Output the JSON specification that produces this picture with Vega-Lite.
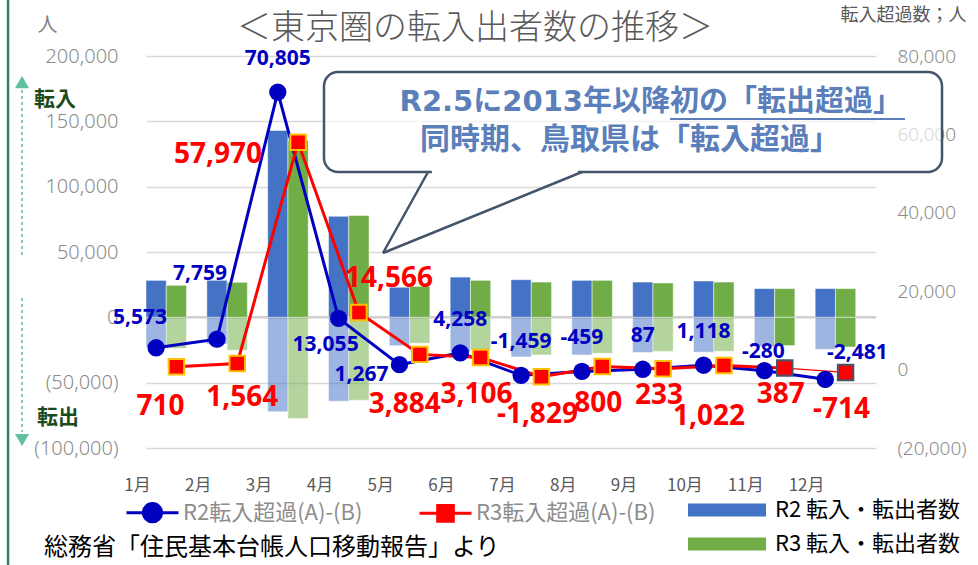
{
  "$schema": "https://vega.github.io/schema/vega-lite/v6.json",
  "width": 730,
  "height": 392,
  "autosize": {"type": "none"},
  "padding": {"left": 146, "top": 56, "right": 102, "bottom": 117},
  "background": "white",
  "config": {
    "view": {"stroke": null},
    "font": "Noto Sans CJK JP",
    "locale": {"number": {"decimal": ".", "thousands": ",", "grouping": [3], "currency": ["", ""], "minus": "-"}}
  },
  "datasets": {
    "bars": [
      {"month": "1月", "year": "R2", "flow": "転入", "value": 28300},
      {"month": "1月", "year": "R2", "flow": "転出", "value": -22700},
      {"month": "1月", "year": "R3", "flow": "転入", "value": 24500},
      {"month": "1月", "year": "R3", "flow": "転出", "value": -23800},
      {"month": "2月", "year": "R2", "flow": "転入", "value": 28300},
      {"month": "2月", "year": "R2", "flow": "転出", "value": -20500},
      {"month": "2月", "year": "R3", "flow": "転入", "value": 26800},
      {"month": "2月", "year": "R3", "flow": "転出", "value": -25200},
      {"month": "3月", "year": "R2", "flow": "転入", "value": 143000},
      {"month": "3月", "year": "R2", "flow": "転出", "value": -72200},
      {"month": "3月", "year": "R3", "flow": "転入", "value": 135400},
      {"month": "3月", "year": "R3", "flow": "転出", "value": -77400},
      {"month": "4月", "year": "R2", "flow": "転入", "value": 77300},
      {"month": "4月", "year": "R2", "flow": "転出", "value": -64200},
      {"month": "4月", "year": "R3", "flow": "転入", "value": 78000},
      {"month": "4月", "year": "R3", "flow": "転出", "value": -63400},
      {"month": "5月", "year": "R2", "flow": "転入", "value": 23000},
      {"month": "5月", "year": "R2", "flow": "転出", "value": -21700},
      {"month": "5月", "year": "R3", "flow": "転入", "value": 23700},
      {"month": "5月", "year": "R3", "flow": "転出", "value": -19800},
      {"month": "6月", "year": "R2", "flow": "転入", "value": 30800},
      {"month": "6月", "year": "R2", "flow": "転出", "value": -26500},
      {"month": "6月", "year": "R3", "flow": "転入", "value": 28300},
      {"month": "6月", "year": "R3", "flow": "転出", "value": -25200},
      {"month": "7月", "year": "R2", "flow": "転入", "value": 28800},
      {"month": "7月", "year": "R2", "flow": "転出", "value": -30300},
      {"month": "7月", "year": "R3", "flow": "転入", "value": 27000},
      {"month": "7月", "year": "R3", "flow": "転出", "value": -28800},
      {"month": "8月", "year": "R2", "flow": "転入", "value": 28300},
      {"month": "8月", "year": "R2", "flow": "転出", "value": -28800},
      {"month": "8月", "year": "R3", "flow": "転入", "value": 28300},
      {"month": "8月", "year": "R3", "flow": "転出", "value": -27500},
      {"month": "9月", "year": "R2", "flow": "転入", "value": 27000},
      {"month": "9月", "year": "R2", "flow": "転出", "value": -26900},
      {"month": "9月", "year": "R3", "flow": "転入", "value": 26300},
      {"month": "9月", "year": "R3", "flow": "転出", "value": -26100},
      {"month": "10月", "year": "R2", "flow": "転入", "value": 27800},
      {"month": "10月", "year": "R2", "flow": "転出", "value": -26700},
      {"month": "10月", "year": "R3", "flow": "転入", "value": 27000},
      {"month": "10月", "year": "R3", "flow": "転出", "value": -26000},
      {"month": "11月", "year": "R2", "flow": "転入", "value": 22000},
      {"month": "11月", "year": "R2", "flow": "転出", "value": -22300},
      {"month": "11月", "year": "R3", "flow": "転入", "value": 22000},
      {"month": "11月", "year": "R3", "flow": "転出", "value": -21600},
      {"month": "12月", "year": "R2", "flow": "転入", "value": 22000},
      {"month": "12月", "year": "R2", "flow": "転出", "value": -24500},
      {"month": "12月", "year": "R3", "flow": "転入", "value": 22000},
      {"month": "12月", "year": "R3", "flow": "転出", "value": -22700}
    ],
    "net": [
      {"month": "1月", "year": "R2", "net": 5573},
      {"month": "2月", "year": "R2", "net": 7759},
      {"month": "3月", "year": "R2", "net": 70805},
      {"month": "4月", "year": "R2", "net": 13055},
      {"month": "5月", "year": "R2", "net": 1267},
      {"month": "6月", "year": "R2", "net": 4258},
      {"month": "7月", "year": "R2", "net": -1459},
      {"month": "8月", "year": "R2", "net": -459},
      {"month": "9月", "year": "R2", "net": 87},
      {"month": "10月", "year": "R2", "net": 1118},
      {"month": "11月", "year": "R2", "net": -280},
      {"month": "12月", "year": "R2", "net": -2481},
      {"month": "1月", "year": "R3", "net": 710},
      {"month": "2月", "year": "R3", "net": 1564},
      {"month": "3月", "year": "R3", "net": 57970},
      {"month": "4月", "year": "R3", "net": 14566},
      {"month": "5月", "year": "R3", "net": 3884},
      {"month": "6月", "year": "R3", "net": 3106},
      {"month": "7月", "year": "R3", "net": -1829},
      {"month": "8月", "year": "R3", "net": 800},
      {"month": "9月", "year": "R3", "net": 233},
      {"month": "10月", "year": "R3", "net": 1022},
      {"month": "11月", "year": "R3", "net": 387},
      {"month": "12月", "year": "R3", "net": -714}
    ]
  },
  "layer": [
    {
      "data": {"name": "bars"},
      "layer": [
        {
          "data": {"values": [{}]},
          "mark": {"type": "rule", "color": "#D0D0D0", "strokeWidth": 2.5},
          "encoding": {"y": {"datum": 0, "type": "quantitative"}}
        },
        {
          "mark": {"type": "bar", "stroke": "white", "strokeWidth": 0.5},
          "encoding": {
            "x": {
              "field": "month", "type": "nominal",
              "sort": ["1月","2月","3月","4月","5月","6月","7月","8月","9月","10月","11月","12月"],
              "scale": {"paddingInner": 0, "paddingOuter": 0},
              "axis": {"title": null, "labelOffset": -39, "labelPadding": 29, "labelAngle": 0, "labelFontSize": 17, "labelColor": "#595959", "ticks": false, "domain": false, "grid": false, "labelFont": "Noto Sans CJK JP"}
            },
            "xOffset": {"field": "year", "type": "nominal", "scale": {"domain": ["R2", "R3"], "paddingInner": 0, "paddingOuter": 0.5, "align": 0}},
            "y": {
              "field": "value", "type": "quantitative",
              "scale": {"domain": [-100000, 200000], "nice": false, "zero": false},
              "axis": {
                "title": "人", "titleAngle": 0, "titleX": -99, "titleY": -31, "titleAlign": "center", "titleBaseline": "middle",
                "titleFontSize": 20, "titleFontWeight": "normal", "titleColor": "#7f7f7f", "titleFont": "Noto Sans CJK JP",
                "values": [-100000, -50000, 0, 50000, 100000, 150000, 200000],
                "labelExpr": "datum.value < 0 ? '(' + format(-datum.value, ',') + ')' : format(datum.value, ',')",
                "labelFontSize": 20, "labelColor": "#8c8c8c", "labelPadding": 28, "labelFont": "Noto Sans", "labelFontWeight": 300,
                "ticks": false, "domain": false, "grid": true, "gridColor": "#D9D9D9", "gridWidth": 1.5
              }
            },
            "color": {
              "field": "year", "type": "nominal",
              "scale": {"domain": ["R2", "R3"], "range": ["#4472C4", "#70AD47"]},
              "legend": {
                "title": null, "orient": "none", "legendX": 568, "legendY": 441, "direction": "vertical", "padding": 0,
                "symbolType": "M-3,-0.5H3V0.5H-3Z", "symbolSize": 676, "symbolStrokeWidth": 0, "symbolOpacity": 1,
                "labelExpr": "datum.label + '  転入・転出者数'", "labelFontSize": 22, "labelOffset": 35, "rowPadding": 10, "labelLimit": 400,
                "labelFont": "Noto Sans CJK JP",
                "encode": {"labels": {"update": {"fill": {"signal": "datum.value == 'R2' ? '#4472C4' : '#70AD47'"}}}}
              }
            },
            "opacity": {
              "condition": {"test": "datum.value < 0 && !(datum.year == 'R3' && (datum.month == '11月' || datum.month == '12月'))", "value": 0.52},
              "value": 1
            }
          }
        }
      ]
    },
    {
      "data": {"name": "net"},
      "encoding": {
        "x": {
          "field": "month", "type": "nominal",
          "sort": ["1月","2月","3月","4月","5月","6月","7月","8月","9月","10月","11月","12月"],
          "scale": {"paddingInner": 0, "paddingOuter": 0},
          "axis": null
        },
        "y": {
          "field": "net", "type": "quantitative",
          "scale": {"domain": [-20000, 80000], "nice": false, "zero": false},
          "axis": {
            "orient": "right", "title": "転入超過数；人", "titleAngle": 0, "titleX": 27, "titleY": -41, "titleAlign": "center", "titleBaseline": "middle",
            "titleFontSize": 18, "titleFontWeight": "normal", "titleColor": "#595959", "titleFont": "Noto Sans CJK JP",
            "values": [-20000, 0, 20000, 40000, 60000, 80000],
            "labelExpr": "datum.value < 0 ? '(' + format(-datum.value, ',') + ')' : format(datum.value, ',')",
            "labelFontSize": 19, "labelColor": "#8c8c8c", "labelPadding": 21, "labelFont": "Noto Sans", "labelFontWeight": 300,
            "ticks": false, "domain": false, "grid": false
          }
        }
      },
      "layer": [
        {
          "transform": [{"filter": "datum.year == 'R2'"}],
          "mark": {"type": "line", "strokeWidth": 3, "xOffset": -20.3},
          "encoding": {
            "stroke": {
              "field": "year", "type": "nominal",
              "scale": {"domain": ["R2", "R3"], "range": ["#0000C0", "#FF0000"]},
              "legend": {
                "title": null, "orient": "none", "legendX": -8, "legendY": 442, "direction": "horizontal", "columns": 2, "padding": 0,
                "symbolSize": 676, "symbolStrokeWidth": 3, "columnPadding": 50, "labelOffset": 16, "labelLimit": 400,
                "labelExpr": "datum.label + '転入超過(A)-(B)'", "labelFontSize": 22, "labelColor": "#8c8c8c", "labelFont": "Noto Sans CJK JP",
                "encode": {"symbols": {"update": {
                  "shape": {"signal": "datum.value == 'R2' ? 'M-2,0H2M-0.7,0A0.7,0.7,0,1,0,0.7,0A0.7,0.7,0,1,0,-0.7,0Z' : 'M-2,0H2M-0.6,-0.6H0.6V0.6H-0.6Z'"},
                  "fill": {"signal": "datum.value == 'R2' ? '#0000C0' : '#FF0000'"},
                  "fillOpacity": {"value": 1}
                }}}
              }
            }
          }
        },
        {
          "transform": [{"filter": "datum.year == 'R3' && datum.month != '12月'"}],
          "mark": {"type": "line", "strokeWidth": 3},
          "encoding": {
            "stroke": {"field": "year", "type": "nominal", "scale": {"domain": ["R2", "R3"], "range": ["#0000C0", "#FF0000"]}}
          }
        },
        {
          "transform": [{"filter": "datum.year == 'R3' && (datum.month == '11月' || datum.month == '12月')"}],
          "mark": {"type": "line", "strokeWidth": 1.3},
          "encoding": {
            "stroke": {"field": "year", "type": "nominal", "scale": {"domain": ["R2", "R3"], "range": ["#0000C0", "#FF0000"]}}
          }
        },
        {
          "transform": [{"filter": "datum.year == 'R2'"}],
          "mark": {"type": "point", "shape": "circle", "filled": true, "size": 300, "color": "#0000C0", "opacity": 1, "xOffset": -20.3}
        },
        {
          "transform": [{"filter": "datum.year == 'R3' && datum.month != '11月' && datum.month != '12月'"}],
          "mark": {"type": "point", "shape": "square", "filled": true, "size": 240, "fill": "#FF0000", "stroke": "#FFC000", "strokeWidth": 2, "opacity": 1}
        },
        {
          "transform": [{"filter": "datum.year == 'R3' && (datum.month == '11月' || datum.month == '12月')"}],
          "mark": {"type": "point", "shape": "square", "filled": true, "size": 240, "fill": "#FF0000", "stroke": "#44546A", "strokeWidth": 2, "opacity": 1}
        },
        {
          "transform": [{"filter": "datum.year == 'R2'"}, {"filter": {"field": "month", "oneOf": ["3月", "6月", "7月", "8月", "9月", "10月"]}}],
          "mark": {"type": "text", "xOffset": -20.3, "dy": -33, "fontSize": 21, "fontWeight": "bold", "font": "Noto Sans", "color": "#0000C0"},
          "encoding": {"text": {"field": "net", "type": "quantitative", "format": ","}}
        },
        {
          "transform": [{"filter": "datum.year == 'R2'"}, {"filter": {"field": "month", "oneOf": ["1月"]}}],
          "mark": {"type": "text", "xOffset": -20.3, "dx": -16, "dy": -30, "fontSize": 21, "fontWeight": "bold", "font": "Noto Sans", "color": "#0000C0"},
          "encoding": {"text": {"field": "net", "type": "quantitative", "format": ","}}
        },
        {
          "transform": [{"filter": "datum.year == 'R2'"}, {"filter": {"field": "month", "oneOf": ["2月"]}}],
          "mark": {"type": "text", "xOffset": -20.3, "dx": -17, "dy": -65, "fontSize": 21, "fontWeight": "bold", "font": "Noto Sans", "color": "#0000C0"},
          "encoding": {"text": {"field": "net", "type": "quantitative", "format": ","}}
        },
        {
          "transform": [{"filter": "datum.year == 'R2'"}, {"filter": {"field": "month", "oneOf": ["4月"]}}],
          "mark": {"type": "text", "xOffset": -20.3, "dx": -13, "dy": 27, "fontSize": 21, "fontWeight": "bold", "font": "Noto Sans", "color": "#0000C0"},
          "encoding": {"text": {"field": "net", "type": "quantitative", "format": ","}}
        },
        {
          "transform": [{"filter": "datum.year == 'R2'"}, {"filter": {"field": "month", "oneOf": ["5月"]}}],
          "mark": {"type": "text", "xOffset": -20.3, "dx": -38, "dy": 10, "fontSize": 21, "fontWeight": "bold", "font": "Noto Sans", "color": "#0000C0"},
          "encoding": {"text": {"field": "net", "type": "quantitative", "format": ","}}
        },
        {
          "transform": [{"filter": "datum.year == 'R2'"}, {"filter": {"field": "month", "oneOf": ["11月"]}}],
          "mark": {"type": "text", "xOffset": -20.3, "dx": -1, "dy": -19, "fontSize": 21, "fontWeight": "bold", "font": "Noto Sans", "color": "#0000C0"},
          "encoding": {"text": {"field": "net", "type": "quantitative", "format": ","}}
        },
        {
          "transform": [{"filter": "datum.year == 'R2'"}, {"filter": {"field": "month", "oneOf": ["12月"]}}],
          "mark": {"type": "text", "xOffset": -20.3, "dx": 32, "dy": -26, "fontSize": 21, "fontWeight": "bold", "font": "Noto Sans", "color": "#0000C0"},
          "encoding": {"text": {"field": "net", "type": "quantitative", "format": ","}}
        },
        {
          "transform": [{"filter": "datum.year == 'R3'"}, {"filter": {"field": "month", "oneOf": ["6月", "7月", "8月", "12月"]}}],
          "mark": {"type": "text", "dx": -4, "dy": 38, "fontSize": 28, "fontWeight": "bold", "font": "Noto Sans", "color": "#FF0000"},
          "encoding": {"text": {"field": "net", "type": "quantitative", "format": ","}}
        },
        {
          "transform": [{"filter": "datum.year == 'R3'"}, {"filter": {"field": "month", "oneOf": ["1月"]}}],
          "mark": {"type": "text", "dx": -16, "dy": 40, "fontSize": 28, "fontWeight": "bold", "font": "Noto Sans", "color": "#FF0000"},
          "encoding": {"text": {"field": "net", "type": "quantitative", "format": ","}}
        },
        {
          "transform": [{"filter": "datum.year == 'R3'"}, {"filter": {"field": "month", "oneOf": ["2月"]}}],
          "mark": {"type": "text", "dx": 5, "dy": 35, "fontSize": 28, "fontWeight": "bold", "font": "Noto Sans", "color": "#FF0000"},
          "encoding": {"text": {"field": "net", "type": "quantitative", "format": ","}}
        },
        {
          "transform": [{"filter": "datum.year == 'R3'"}, {"filter": {"field": "month", "oneOf": ["5月", "10月"]}}],
          "mark": {"type": "text", "dx": -15, "dy": 51, "fontSize": 28, "fontWeight": "bold", "font": "Noto Sans", "color": "#FF0000"},
          "encoding": {"text": {"field": "net", "type": "quantitative", "format": ","}}
        },
        {
          "transform": [{"filter": "datum.year == 'R3'"}, {"filter": {"field": "month", "oneOf": ["9月", "11月"]}}],
          "mark": {"type": "text", "dx": -4, "dy": 27, "fontSize": 28, "fontWeight": "bold", "font": "Noto Sans", "color": "#FF0000"},
          "encoding": {"text": {"field": "net", "type": "quantitative", "format": ","}}
        },
        {
          "transform": [{"filter": "datum.year == 'R3'"}, {"filter": {"field": "month", "oneOf": ["3月"]}}],
          "mark": {"type": "text", "dx": -80, "dy": 13, "fontSize": 28, "fontWeight": "bold", "font": "Noto Sans", "color": "#FF0000"},
          "encoding": {"text": {"field": "net", "type": "quantitative", "format": ","}}
        },
        {
          "transform": [{"filter": "datum.year == 'R3'"}, {"filter": {"field": "month", "oneOf": ["4月"]}}],
          "mark": {"type": "text", "dx": 30, "dy": -34, "fontSize": 28, "fontWeight": "bold", "font": "Noto Sans", "color": "#FF0000"},
          "encoding": {"text": {"field": "net", "type": "quantitative", "format": ","}}
        }
      ]
    },
    {
      "data": {"values": [{}]},
      "layer": [
        {
          "mark": {"type": "rule", "color": "#2E8060", "strokeWidth": 2.5, "clip": false},
          "encoding": {
            "x": {"datum": -2.268, "type": "quantitative", "scale": {"domain": [0, 12], "nice": false, "zero": false}, "axis": null},
            "y": {"datum": 94286, "type": "quantitative", "scale": {"domain": [-20000, 80000], "nice": false, "zero": false}, "axis": null},
            "y2": {"datum": -49847}
          }
        },
        {
          "mark": {"type": "rule", "color": "#5FBF9F", "strokeWidth": 1.5, "strokeDash": [3, 3]},
          "encoding": {"x": {"datum": -2.038, "type": "quantitative"}, "y": {"datum": 71327, "type": "quantitative"}, "y2": {"datum": 28469}}
        },
        {
          "mark": {"type": "rule", "color": "#5FBF9F", "strokeWidth": 1.5, "strokeDash": [3, 3]},
          "encoding": {"x": {"datum": -2.038, "type": "quantitative"}, "y": {"datum": 18265, "type": "quantitative"}, "y2": {"datum": -15918}}
        },
        {
          "mark": {"type": "point", "shape": "triangle-up", "filled": true, "size": 200, "color": "#5FBF9F", "opacity": 1},
          "encoding": {"x": {"datum": -2.038, "type": "quantitative"}, "y": {"datum": 73367, "type": "quantitative"}}
        },
        {
          "mark": {"type": "point", "shape": "triangle-down", "filled": true, "size": 200, "color": "#5FBF9F", "opacity": 1},
          "encoding": {"x": {"datum": -2.038, "type": "quantitative"}, "y": {"datum": -17959, "type": "quantitative"}}
        },
        {
          "mark": {"type": "text", "text": "転入", "fontSize": 21, "fontWeight": "bold", "color": "#1B4A1B", "font": "Noto Sans CJK JP"},
          "encoding": {"x": {"datum": -1.496, "type": "quantitative"}, "y": {"datum": 68776, "type": "quantitative"}}
        },
        {
          "mark": {"type": "text", "text": "転出", "fontSize": 21, "fontWeight": "bold", "color": "#1B4A1B", "font": "Noto Sans CJK JP"},
          "encoding": {"x": {"datum": -1.447, "type": "quantitative"}, "y": {"datum": -12347, "type": "quantitative"}}
        },
        {
          "mark": {"type": "text", "text": "＜東京圏の転入出者数の推移＞", "fontSize": 34, "fontWeight": 300, "color": "#595959", "font": "Noto Sans CJK JP"},
          "encoding": {"x": {"datum": 5.408, "type": "quantitative"}, "y": {"datum": 87000, "type": "quantitative"}}
        },
        {
          "mark": {"type": "rect", "fill": "white", "fillOpacity": 0.65, "stroke": "#44546A", "strokeWidth": 2.5, "cornerRadius": 14},
          "encoding": {"x": {"datum": 2.926, "type": "quantitative"}, "x2": {"datum": 13.085}, "y": {"datum": 75918, "type": "quantitative"}, "y2": {"datum": 50408}}
        },
        {
          "mark": {"type": "rule", "color": "white", "strokeWidth": 4},
          "encoding": {"x": {"datum": 4.70, "type": "quantitative"}, "x2": {"datum": 7.10}, "y": {"datum": 50408, "type": "quantitative"}}
        },
        {
          "mark": {"type": "rule", "color": "#44546A", "strokeWidth": 2.5},
          "encoding": {"x": {"datum": 4.636, "type": "quantitative"}, "y": {"datum": 50408, "type": "quantitative"}, "x2": {"datum": 3.896}, "y2": {"datum": 29745}}
        },
        {
          "mark": {"type": "rule", "color": "#44546A", "strokeWidth": 2.5},
          "encoding": {"x": {"datum": 7.167, "type": "quantitative"}, "y": {"datum": 50408, "type": "quantitative"}, "x2": {"datum": 3.896}, "y2": {"datum": 29745}}
        },
        {
          "mark": {"type": "text", "text": "R2.5に2013年以降", "align": "right", "fontSize": 29, "fontWeight": "bold", "color": "#5B7FBA", "font": "DejaVu Sans, Noto Sans CJK JP"},
          "encoding": {"x": {"datum": 8.614, "type": "quantitative"}, "y": {"datum": 68265, "type": "quantitative"}}
        },
        {
          "mark": {"type": "text", "text": "初の「転出超過」", "align": "left", "fontSize": 29, "fontWeight": "bold", "color": "#5B7FBA", "font": "Noto Sans CJK JP"},
          "encoding": {"x": {"datum": 8.614, "type": "quantitative"}, "y": {"datum": 68265, "type": "quantitative"}}
        },
        {
          "mark": {"type": "rule", "color": "#5B7FBA", "strokeWidth": 2},
          "encoding": {"x": {"datum": 8.614, "type": "quantitative"}, "x2": {"datum": 12.477}, "y": {"datum": 63929, "type": "quantitative"}}
        },
        {
          "mark": {"type": "text", "text": "同時期、鳥取県は「転入超過」", "fontSize": 30, "fontWeight": "bold", "color": "#5B7FBA", "font": "Noto Sans CJK JP"},
          "encoding": {"x": {"datum": 7.956, "type": "quantitative"}, "y": {"datum": 58571, "type": "quantitative"}}
        },
        {
          "mark": {"type": "text", "text": "総務省「住民基本台帳人口移動報告」より", "align": "left", "fontSize": 24, "color": "#000000", "font": "Noto Sans CJK JP"},
          "encoding": {"x": {"datum": -1.677, "type": "quantitative"}, "y": {"datum": -45510, "type": "quantitative"}}
        }
      ]
    }
  ],
  "resolve": {
    "scale": {"x": "independent", "y": "independent", "xOffset": "independent", "color": "independent", "stroke": "independent"},
    "axis": {"x": "independent", "y": "independent"}
  }
}
